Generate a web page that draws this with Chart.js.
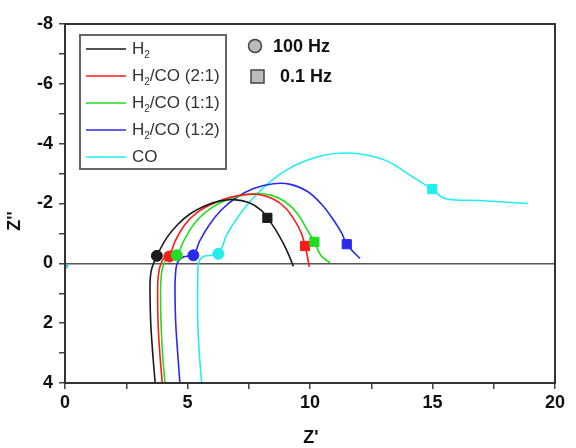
<!DOCTYPE html>
<html>
<head>
<meta charset="utf-8">
<script src="https://cdn.jsdelivr.net/npm/chart.js@4.4.0/dist/chart.umd.min.js"></script>
<style>
  html, body { margin: 0; padding: 0; background: #fff; }
  canvas { display: block; }
</style>
</head>
<body>
<canvas id="nyquist" width="576" height="448"></canvas>
<script>
// Z' (x) and Z'' (y)
const h2X = [3.68, 3.58, 3.5, 3.47, 3.48, 3.55, 3.75, 4.15, 4.6, 5.1, 5.7, 6.3, 6.9, 7.5, 8.0, 8.26, 8.6, 8.9, 9.15, 9.32];
const h2Y = [4, 3, 2, 1, 0.5, 0.15, -0.25, -0.85, -1.3, -1.65, -1.92, -2.08, -2.13, -2.03, -1.78, -1.52, -1.12, -0.68, -0.25, 0.1];

const co21X = [3.97, 3.87, 3.8, 3.78, 3.8, 3.88, 4.05, 4.26, 4.5, 4.9, 5.4, 6.0, 6.7, 7.4, 7.9, 8.5, 9.0, 9.4, 9.65, 9.8, 9.9, 9.97];
const co21Y = [4, 3, 2, 1, 0.5, 0.1, -0.18, -0.23, -0.75, -1.3, -1.7, -1.98, -2.2, -2.3, -2.3, -2.15, -1.85, -1.4, -1.0, -0.58, -0.2, 0.12];

const co11X = [4.08, 3.98, 3.92, 3.9, 3.92, 4.0, 4.2, 4.56, 4.85, 5.25, 5.75, 6.4, 7.1, 7.8, 8.4, 9.0, 9.5, 9.9, 10.18, 10.45, 10.82];
const co11Y = [4, 3, 2, 1, 0.5, 0.1, -0.2, -0.27, -0.75, -1.3, -1.72, -2.05, -2.25, -2.33, -2.28, -2.05, -1.65, -1.1, -0.72, -0.25, -0.02];

const co12X = [4.69, 4.6, 4.52, 4.49, 4.5, 4.58, 4.85, 5.24, 5.5, 5.9, 6.4, 7.0, 7.7, 8.5, 9.2, 9.9, 10.5, 11.0, 11.3, 11.5, 12.04];
const co12Y = [4, 3, 2, 1, 0.5, 0.0, -0.22, -0.27, -0.75, -1.3, -1.8, -2.2, -2.5, -2.66, -2.64, -2.4, -1.95, -1.4, -1.0, -0.64, -0.16];

const coX = [5.58, 5.48, 5.42, 5.41, 5.42, 5.45, 5.65, 6.26, 6.6, 7.1, 7.7, 8.4, 9.1, 9.9, 10.7, 11.5, 12.3, 13.2, 14.2, 14.99, 15.5, 16.9, 18.9];
const coY = [4, 3, 2, 1.35, 0.5, 0.0, -0.23, -0.32, -0.95, -1.6, -2.2, -2.75, -3.15, -3.45, -3.64, -3.69, -3.62, -3.4, -2.88, -2.48, -2.17, -2.1, -2.0];

// 100 Hz (circle) and 0.1 Hz (square) markers, same order as series
const hz100X = [3.75, 4.26, 4.56, 5.24, 6.26];
const hz100Y = [-0.25, -0.23, -0.27, -0.27, -0.32];
const hz01X = [8.26, 9.8, 10.18, 11.5, 14.99];
const hz01Y = [-1.52, -0.58, -0.72, -0.64, -2.48];

const seriesNames = ['H2', 'H2/CO (2:1)', 'H2/CO (1:1)', 'H2/CO (1:2)', 'CO'];
const seriesColors = ['#1a1a1a', '#ff1a1a', '#22dd22', '#2a2aee', '#22eeee'];

const xTicks = [0, 5, 10, 15, 20];
const yTicks = [-8, -6, -4, -2, 0, 2, 4];

const FONT = '"Liberation Sans", Arial, sans-serif';

function pts(xs, ys) {
    return xs.map((x, i) => ({x: x, y: ys[i]}));
}

const lineData = [pts(h2X, h2Y), pts(co21X, co21Y), pts(co11X, co11Y), pts(co12X, co12Y), pts(coX, coY)];

let datasets = [];
datasets.push({
    data: pts(hz100X, hz100Y),
    showLine: false,
    pointStyle: 'circle',
    pointRadius: 5.5,
    backgroundColor: seriesColors,
    borderColor: seriesColors,
    order: 0
});
datasets.push({
    data: pts(hz01X, hz01Y),
    showLine: false,
    pointStyle: 'rect',
    pointRadius: 6.5,
    backgroundColor: seriesColors,
    borderColor: seriesColors,
    order: 0
});
for (let i = 0; i < lineData.length; i++) {
    datasets.push({
        label: seriesNames[i],
        data: lineData[i],
        showLine: true,
        borderColor: seriesColors[i],
        borderWidth: 1.6,
        pointRadius: 0,
        tension: 0.35,
        order: 1
    });
}
// little cyan mark sitting on the left axis
datasets.push({
    data: [{x: 0.05, y: 0.1}],
    showLine: false,
    pointStyle: 'triangle',
    rotation: 180,
    pointRadius: 2.5,
    backgroundColor: '#22ccdd',
    borderColor: '#22ccdd',
    order: 1
});

function drawSubText(ctx, x, y, main, sub, rest, size) {
    ctx.font = size + 'px ' + FONT;
    ctx.fillText(main, x, y);
    x += ctx.measureText(main).width;
    if (sub) {
        ctx.font = Math.round(size * 0.6) + 'px ' + FONT;
        ctx.fillText(sub, x, y + 6);
        x += ctx.measureText(sub).width;
    }
    ctx.font = size + 'px ' + FONT;
    ctx.fillText(rest, x, y);
}

const decorations = {
    id: 'decorations',
    afterDraw(chart) {
        const ctx = chart.ctx;
        const a = chart.chartArea;
        ctx.save();

        // frame
        ctx.strokeStyle = '#333';
        ctx.lineWidth = 2;
        ctx.strokeRect(a.left, a.top, a.right - a.left, a.bottom - a.top);

        // series legend box
        ctx.fillStyle = '#fff';
        ctx.fillRect(80, 35, 146, 134);
        ctx.strokeStyle = '#666';
        ctx.lineWidth = 2;
        ctx.strokeRect(80, 35, 146, 134);
        ctx.textBaseline = 'middle';
        ctx.textAlign = 'left';
        for (let i = 0; i < seriesNames.length; i++) {
            let y = 49 + i * 27;
            ctx.strokeStyle = seriesColors[i];
            ctx.lineWidth = 1.6;
            ctx.beginPath();
            ctx.moveTo(86, y);
            ctx.lineTo(126, y);
            ctx.stroke();
            ctx.fillStyle = '#333';
            let name = seriesNames[i];
            if (name.startsWith('H2')) {
                drawSubText(ctx, 132, y, 'H', '2', name.substring(2), 17);
            } else {
                drawSubText(ctx, 132, y, name, '', '', 17);
            }
        }

        // frequency markers legend
        ctx.fillStyle = '#bbb';
        ctx.strokeStyle = '#444';
        ctx.lineWidth = 1.5;
        ctx.beginPath();
        ctx.arc(255, 46, 6.5, 0, Math.PI * 2);
        ctx.fill();
        ctx.stroke();
        ctx.fillRect(251, 70, 13, 13);
        ctx.strokeRect(251, 70, 13, 13);
        ctx.fillStyle = '#111';
        ctx.font = 'bold 18px ' + FONT;
        ctx.fillText('100 Hz', 273, 47);
        ctx.fillText('0.1 Hz', 280, 77);

        // axis titles
        ctx.textAlign = 'center';
        ctx.fillText("Z'", 311, 438);
        ctx.translate(15, 221);
        ctx.rotate(-Math.PI / 2);
        ctx.fillText("Z''", 0, 0);
        ctx.restore();
    }
};

const tickFont = {family: FONT, size: 18, weight: 'bold'};

const myChart = new Chart(document.getElementById('nyquist'), {
    type: 'scatter',
    data: {datasets: datasets},
    options: {
        responsive: false,
        animation: false,
        layout: {padding: {left: 0, right: 21, top: 24, bottom: 0}},
        plugins: {legend: {display: false}, tooltip: {enabled: false}},
        scales: {
            x: {
                type: 'linear',
                min: 0,
                max: 20,
                ticks: {
                    stepSize: 2.5,
                    autoSkip: false,
                    maxRotation: 0,
                    padding: 3,
                    color: '#111',
                    font: tickFont,
                    callback: (v) => xTicks.includes(v) ? String(v) : ''
                },
                grid: {drawOnChartArea: false, tickLength: 6, tickColor: '#444', lineWidth: 1.5},
                border: {color: '#333', width: 2},
                afterFit: (s) => { s.height = 65; }
            },
            y: {
                type: 'linear',
                min: -8,
                max: 4,
                reverse: true,
                ticks: {
                    stepSize: 1,
                    autoSkip: false,
                    padding: 6,
                    color: '#111',
                    font: tickFont,
                    callback: (v) => yTicks.includes(v) ? String(v) : ''
                },
                grid: {
                    drawOnChartArea: true,
                    tickLength: 6,
                    tickColor: '#444',
                    lineWidth: 1.5,
                    color: (c) => (c.tick && c.tick.value === 0) ? '#555' : 'rgba(0,0,0,0)'
                },
                border: {color: '#333', width: 2},
                afterFit: (s) => { s.width = 65; }
            }
        }
    },
    plugins: [decorations]
});
</script>
</body>
</html>
